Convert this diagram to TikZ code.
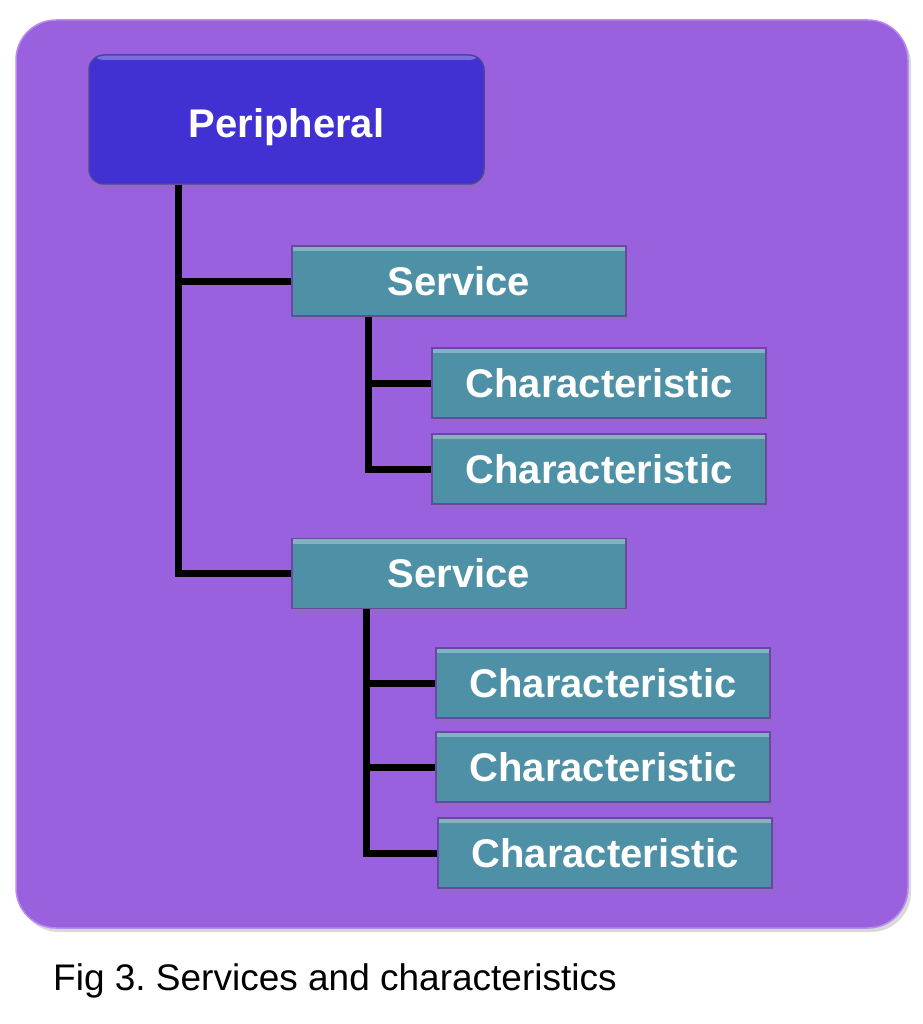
\documentclass[tikz,border=0pt]{standalone}
\usepackage{fontspec}
\setmainfont{Liberation Sans}
\usetikzlibrary{shadows}
\definecolor{bgpurple}{RGB}{153,97,222}
\definecolor{bgedge}{RGB}{185,140,240}
\definecolor{perblue}{RGB}{65,48,210}
\definecolor{peredge}{RGB}{80,65,160}
\definecolor{teal}{RGB}{78,145,167}
\definecolor{boxedge}{RGB}{105,72,165}
\tikzset{
  gloss/.style={path picture={\fill[white,opacity=.3] (path picture bounding box.north west) rectangle ([yshift=-5pt]path picture bounding box.north east);}},
  perbox/.style={rounded corners=15pt, fill=perblue, draw=peredge, line width=1.5pt,
    minimum width=395pt, minimum height=129pt, font=\bfseries\fontsize{40}{48}\selectfont, text=white,
    drop shadow={shadow xshift=1pt, shadow yshift=-4pt, opacity=.3}, gloss},
  itembox/.style={fill=teal, draw=boxedge, line width=1.5pt,
    minimum width=334pt, minimum height=70pt, font=\bfseries\fontsize{40}{48}\selectfont, text=white,
    drop shadow={shadow xshift=2pt, shadow yshift=-4pt, opacity=.3}, gloss, inner sep=0pt},
  conn/.style={draw=black, line width=7pt, line join=miter}
}
\begin{document}
\begin{tikzpicture}[x=1pt,y=-1pt]
\useasboundingbox (0,0) rectangle (922,1024);
% background panel
\fill[black!25, opacity=.6, rounded corners=40pt] (19,24) rectangle (911,932);
\draw[fill=bgpurple, draw=bgedge, line width=1.5pt, rounded corners=40pt] (16,20) rectangle (908,928);
% nodes
\node[perbox] (per) at (286.5,119.5) {\raisebox{-8pt}[\height][\depth]{Peripheral}};
\node[itembox] (s1) at (459,281) {Service};
\node[itembox] (c1) at (599,383) {Characteristic};
\node[itembox] (c2) at (599,469) {Characteristic};
\node[itembox] (s2) at (459,573.5) {Service};
\node[itembox] (c3) at (603,683) {Characteristic};
\node[itembox] (c4) at (603,767) {Characteristic};
\node[itembox] (c5) at (605,853) {Characteristic};
% junction coordinates
\coordinate (p0) at ([xshift=-108.5pt]per.south);
\coordinate (q1) at ([xshift=-91pt]s1.south);
\coordinate (q2) at ([xshift=-93pt]s2.south);
% connectors
\draw[conn] (p0) |- (s1.west);
\draw[conn] (p0) |- (s2.west);
\draw[conn] (q1) |- (c1.west);
\draw[conn] (q1) |- (c2.west);
\draw[conn] (q2) |- (c3.west);
\draw[conn] (q2) |- (c4.west);
\draw[conn] (q2) |- (c5.west);
% caption
\node[anchor=base west, inner sep=0pt, font=\fontsize{37}{44}\selectfont] (cap) at (53,990) {\frenchspacing Fig 3. Services and characteristics};
\end{tikzpicture}
\end{document}
